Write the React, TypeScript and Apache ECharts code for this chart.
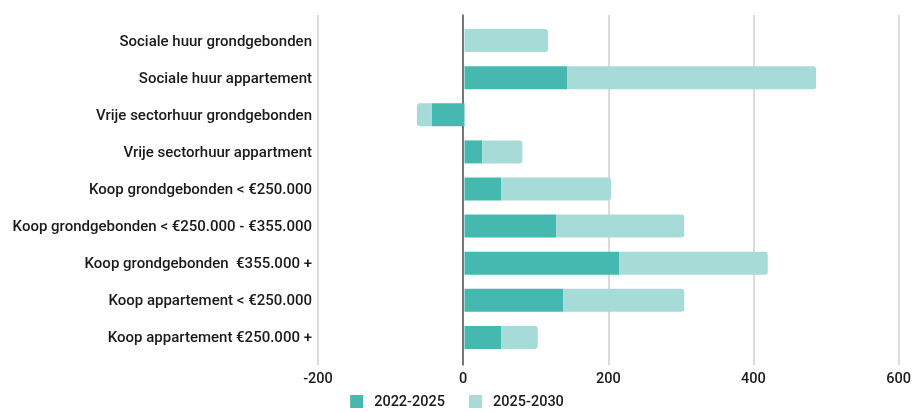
import React, { useEffect, useRef } from "react";
import * as echarts from "echarts";

const categories = [
  "Sociale huur grondgebonden",
  "Sociale huur appartement",
  "Vrije sectorhuur grondgebonden",
  "Vrije sectorhuur appartment",
  "Koop grondgebonden < €250.000",
  "Koop grondgebonden < €250.000 - €355.000",
  "Koop grondgebonden  €355.000 +",
  "Koop appartement < €250.000",
  "Koop appartement €250.000 +",
];
const period1 = [0, 140, -45, 24, 50, 125, 211, 135, 50];
const period2 = [114, 340, -20, 55, 150, 175, 203, 165, 50];
const seriesNames = ["2022-2025", "2025-2030"];
const xTicks = { min: -200, max: 600, interval: 200 };

const DARK = "#45b8b0";
const LIGHT = "#a6dbd8";
const FONT = "Roboto";
const TEXT = "#1a1a1a";

export default function App() {
  const ref = useRef<HTMLDivElement>(null);
  useEffect(() => {
    if (!ref.current) return;
    const chart = echarts.init(ref.current, undefined, { renderer: "svg" });
    chart.setOption({
      animation: false,
      textStyle: { fontFamily: FONT },
      legend: {
        top: 389,
        left: "center",
        itemWidth: 13,
        itemHeight: 13,
        itemGap: 24,
        icon: "rect",
        textStyle: {
          fontSize: 14.5,
          fontWeight: 500,
          color: TEXT,
          fontFamily: FONT,
          padding: [0, 0, 0, 6],
        },
        data: seriesNames,
      },
      grid: [
        { left: 318, right: 10, top: 15, bottom: 47 },
        { left: 318, right: 10, top: 22, bottom: 56 },
      ],
      xAxis: [
        {
          type: "value",
          gridIndex: 0,
          min: xTicks.min,
          max: xTicks.max,
          interval: xTicks.interval,
          axisLine: { show: false },
          axisTick: { show: false },
          splitLine: { lineStyle: { color: "#d0d0d0", width: 1.5 } },
          axisLabel: {
            fontSize: 14.5,
            fontWeight: 500,
            color: TEXT,
            margin: 6,
            fontFamily: FONT,
          },
        },
        {
          type: "value",
          gridIndex: 1,
          min: xTicks.min,
          max: xTicks.max,
          interval: xTicks.interval,
          show: false,
        },
      ],
      yAxis: [
        {
          type: "category",
          gridIndex: 0,
          data: ["a"],
          axisLine: { show: true, onZero: true, lineStyle: { color: "#555", width: 1.5 } },
          axisTick: { show: false },
          axisLabel: { show: false },
        },
        {
          type: "category",
          gridIndex: 1,
          data: categories,
          inverse: true,
          axisLine: { show: false },
          axisTick: { show: false },
          axisLabel: {
            fontSize: 15,
            fontWeight: 500,
            color: TEXT,
            margin: 6,
            fontFamily: FONT,
          },
        },
      ],
      series: [
        {
          name: seriesNames[0],
          type: "bar",
          xAxisIndex: 1,
          yAxisIndex: 1,
          stack: "total",
          barWidth: "62%",
          itemStyle: { color: DARK },
          data: period1,
        },
        {
          name: seriesNames[1],
          type: "bar",
          xAxisIndex: 1,
          yAxisIndex: 1,
          stack: "total",
          barWidth: "62%",
          itemStyle: { color: LIGHT },
          data: period2.map((v) => ({
            value: v,
            itemStyle: { borderRadius: v < 0 ? [3, 0, 0, 3] : [0, 3, 3, 0] },
          })),
        },
      ],
    });
    return () => chart.dispose();
  }, []);
  return (
    <div
      ref={ref}
      style={{ position: "fixed", left: 0, top: 0, width: 914, height: 412 }}
    />
  );
}
